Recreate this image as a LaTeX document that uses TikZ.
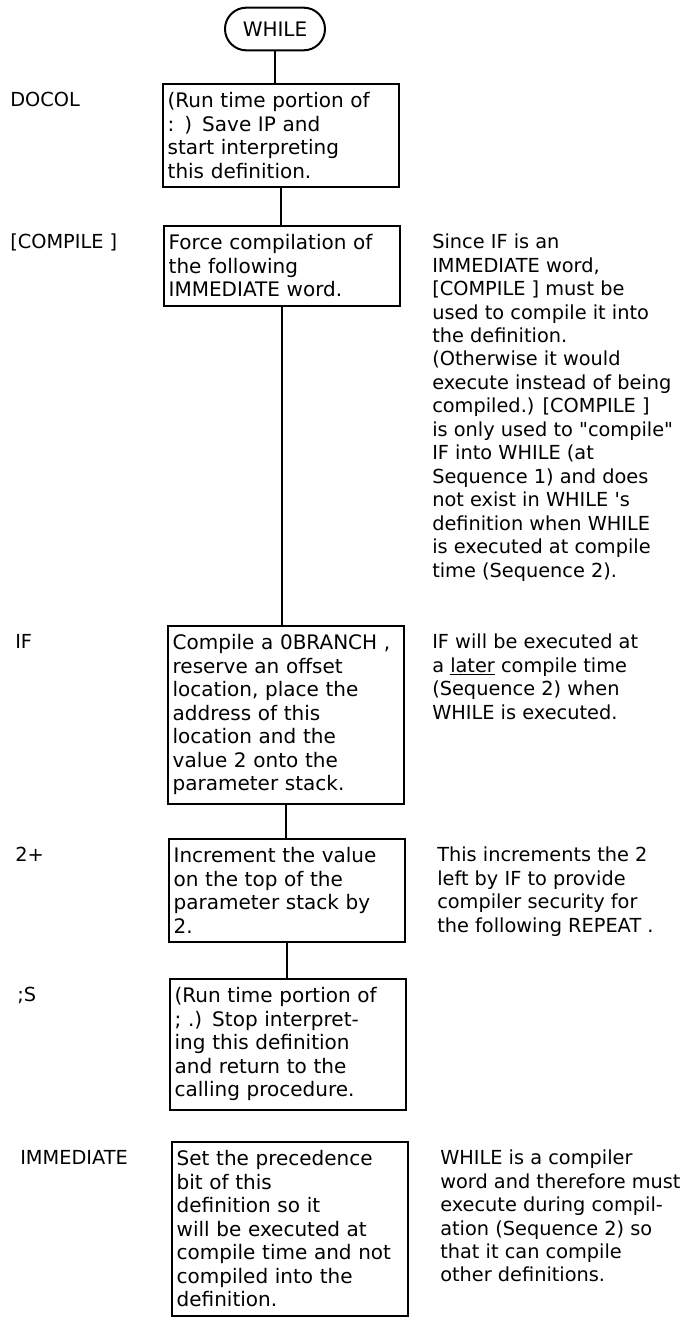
\documentclass[tikz,border=0pt]{standalone}
\usepackage{fontspec}
\setmainfont{DejaVu Sans}
\newfontfamily\plainquotes{DejaVu Sans}
\usepackage{tikz}
\usetikzlibrary{positioning,shapes.misc}

\begin{document}
\begin{tikzpicture}[x=0.75pt,y=-0.75pt,font=\fontsize{14.5}{17.6}\selectfont,
    wordbox/.style={draw, line width=1.5pt, anchor=north, align=left, text width=170pt, inner xsep=3.5pt, inner ysep=6.5pt, font=\fontsize{15}{17.6}\selectfont},
    wordname/.style={anchor=north west, inner xsep=0pt, inner ysep=6.5pt},
    notetext/.style={anchor=north west, align=left, inner xsep=0pt, inner ysep=6.5pt},
    link/.style={line width=1.5pt}]
      \useasboundingbox (0,0) rectangle (684,1318);

      \node[draw, rounded rectangle, line width=1.5pt, minimum width=79pt, minimum height=32pt, inner sep=2pt, font=\fontsize{15}{17.6}\selectfont] (while) at (275,29) {WHILE};

      \node[wordbox] (docol) at (281,83) {(Run time portion of\\: ) Save IP and\\start interpreting\\this definition.};
      \node[wordbox] (compile) at (282,225) {Force compilation of\\the following\\IMMEDIATE word.};
      \node[wordbox] (ifword) at (286,625) {Compile a 0BRANCH ,\\reserve an offset\\location, place the\\address of this\\location and the\\value 2 onto the\\parameter stack.};
      \node[wordbox] (twoplus) at (287,838) {Increment the value\\on the top of the\\parameter stack by\\2.};
      \node[wordbox] (semis) at (288,978) {(Run time portion of\\; .) Stop interpret-\\ing this definition\\and return to the\\calling procedure.};
      \node[wordbox] (immed) at (290,1141) {Set the precedence\\bit of this\\definition so it\\will be executed at\\compile time and not\\compiled into the\\definition.};

      \node[wordname] (docol-name) at (10,0 |- docol.north) {DOCOL};
      \node[wordname] (compile-name) at (10,0 |- compile.north) {[COMPILE ]};
      \node[wordname] (ifword-name) at (15,0 |- ifword.north) {IF};
      \node[wordname] (twoplus-name) at (15,0 |- twoplus.north) {2+};
      \node[wordname] (semis-name) at (17,0 |- semis.north) {;S};
      \node[wordname] (immed-name) at (20,0 |- immed.north) {IMMEDIATE};

      \node[notetext] (compile-note) at (432,0 |- compile.north) {Since IF is an\\IMMEDIATE word,\\{}[COMPILE ] must be\\used to compile it into\\the definition.\\(Otherwise it would\\execute instead of being\\compiled.) [COMPILE ]\\is only used to {\plainquotes"}compile{\plainquotes"}\\IF into WHILE (at\\Sequence 1) and does\\not exist in WHILE \textquotesingle s\\definition when WHILE\\is executed at compile\\time (Sequence 2).};
      \node[notetext] (ifword-note) at (432,0 |- ifword.north) {IF will be executed at\\a \underline{later} compile time\\(Sequence 2) when\\WHILE is executed.};
      \node[notetext] (twoplus-note) at (437,0 |- twoplus.north) {This increments the 2\\left by IF to provide\\compiler security for\\the following REPEAT .};
      \node[notetext] (immed-note) at (440,0 |- immed.north) {WHILE is a compiler\\word and therefore must\\execute during compil-\\ation (Sequence 2) so\\that it can compile\\other definitions.};

      \draw[link] (while.south) -- (while.south |- docol.north);
      \draw[link] (docol.south) -- (docol.south |- compile.north);
      \draw[link] (compile.south) -- (compile.south |- ifword.north);
      \draw[link] (ifword.south) -- (ifword.south |- twoplus.north);
      \draw[link] (twoplus.south) -- (twoplus.south |- semis.north);
    \end{tikzpicture}
\end{document}
